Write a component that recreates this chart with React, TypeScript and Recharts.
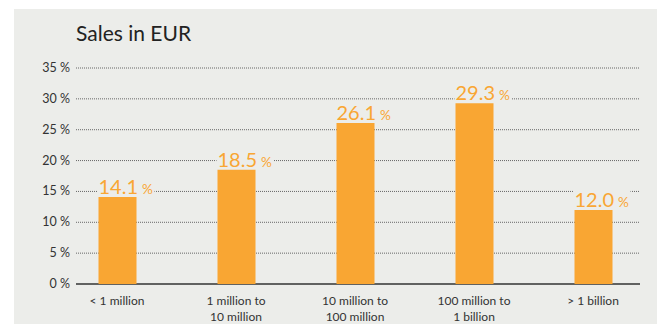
import React from "react";
import { BarChart, Bar, XAxis, YAxis, CartesianGrid, LabelList } from "recharts";

const CATEGORIES = [
  "< 1 million",
  "1 million to\n10 million",
  "10 million to\n100 million",
  "100 million to\n1 billion",
  "> 1 billion",
];
const SHARES = [14.1, 18.5, 26.1, 29.3, 12.0];
const Y_TICKS = [0, 5, 10, 15, 20, 25, 30, 35];

const FONT = "Lato, 'Open Sans', sans-serif";
const ORANGE = "#f9a633";
const PANEL = "#ecedea";
const TEXT = "#333";

const chartData = CATEGORIES.map((name, i) => ({ name, share: SHARES[i] }));

function YTick(props: any) {
  const { y, payload } = props;
  return (
    <text x={70} y={y} dy={4} textAnchor="end" fontSize={12.5} fill={TEXT} fontFamily={FONT}>
      {payload.value} %
    </text>
  );
}

function XTick(props: any) {
  const { x, y, payload } = props;
  const lines = String(payload.value).split("\n");
  return (
    <text x={x} y={y} textAnchor="middle" fontSize={12} fill={TEXT} fontFamily={FONT}>
      {lines.map((l, i) => (
        <tspan key={i} x={x} dy={i === 0 ? 13 : 16}>
          {l}
        </tspan>
      ))}
    </text>
  );
}

// value label sits on a panel-coloured box so the dotted grid breaks around it
function ValueLabel(props: any) {
  const { x, y, value } = props;
  const bx = Number(x);
  const by = Number(y) - 3;
  return (
    <g>
      <rect x={bx - 1} y={by - 17} width={57} height={18} fill={PANEL} />
      <text x={bx} y={by} fill={ORANGE} fontFamily={FONT}>
        <tspan fontSize={20}>{Number(value).toFixed(1)}</tspan>
        <tspan fontSize={13.5} dx={4}>%</tspan>
      </text>
    </g>
  );
}

function GridLine(p: any) {
  const base = Math.abs(p.y1 - 284) < 1.5;
  return (
    <line
      key={p.key ?? p.index}
      x1={p.x1}
      x2={p.x2}
      y1={p.y1}
      y2={p.y2}
      stroke={base ? "#333" : "#666"}
      strokeWidth={base ? 1.5 : 1}
      strokeDasharray={base ? undefined : "1 1"}
    />
  );
}

export default function App() {
  return (
    <div style={{ position: "absolute", left: 0, top: 0, width: 660, height: 324, background: "#fff" }}>
      <div style={{ position: "absolute", left: 14, top: 9, width: 643, height: 315, background: PANEL }} />
      <div
        style={{
          position: "absolute",
          left: 76,
          top: 20,
          fontFamily: FONT,
          fontSize: 21,
          color: "#222",
          lineHeight: "26px",
        }}
      >
        Sales in EUR
      </div>
      <div style={{ position: "absolute", left: 0, top: 0 }}>
        <BarChart
          width={660}
          height={324}
          data={chartData}
          margin={{ top: 68, right: 7.5, bottom: 0, left: 0.5 }}
          barSize={38}
        >
          <CartesianGrid x={76} width={564} vertical={false} horizontal={GridLine} />
          <XAxis
            dataKey="name"
            axisLine={false}
            tickLine={false}
            height={40}
            interval={0}
            tick={<XTick />}
          />
          <YAxis
            width={57}
            domain={[0, 35]}
            ticks={Y_TICKS}
            axisLine={false}
            tickLine={false}
            tick={<YTick />}
          />
          <Bar dataKey="share" fill={ORANGE} isAnimationActive={false}>
            <LabelList dataKey="share" content={<ValueLabel />} />
          </Bar>
        </BarChart>
      </div>
    </div>
  );
}
